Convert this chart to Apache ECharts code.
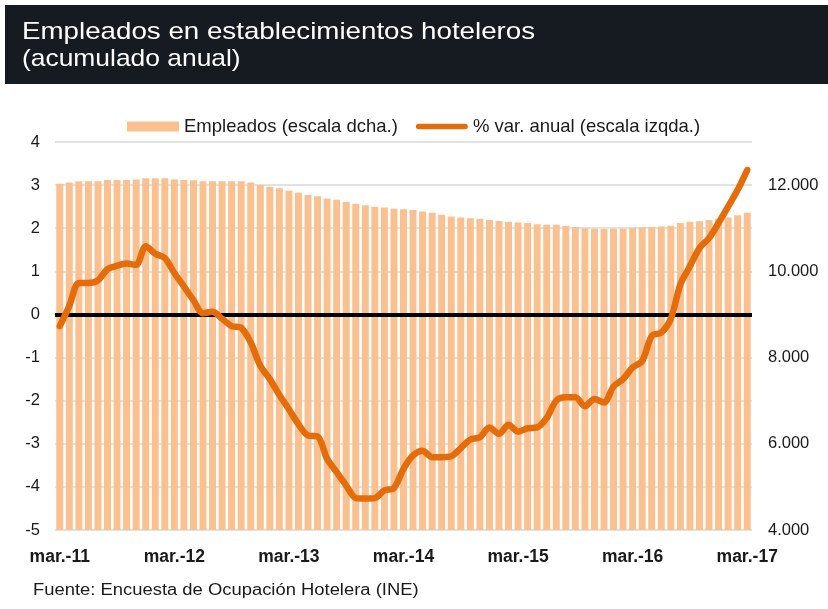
<!DOCTYPE html>
<html>
<head>
<meta charset="utf-8">
<script src="https://cdn.jsdelivr.net/npm/echarts@6/dist/echarts.min.js"></script>
<style>
html, body { margin: 0; padding: 0; background: #fff; }
#chart { width: 828px; height: 609px; }
</style>
</head>
<body>
<div id="chart"></div>
<script>
// etiquetas mensuales mar-11 .. mar-17
var meses = ['mar.', 'abr.', 'may.', 'jun.', 'jul.', 'ago.', 'sep.', 'oct.', 'nov.', 'dic.', 'ene.', 'feb.'];
var anios = ['11', '12', '13', '14', '15', '16', '17'];

// empleados (escala dcha.)
var empleados = [
    12030, 12060, 12090, 12090, 12090, 12120, 12120, 12120, 12130, 12160, 12160, 12160,
    12130, 12120, 12110, 12090, 12090, 12090, 12090, 12090, 12060, 12000, 11960, 11930,
    11870, 11820, 11770, 11740, 11690, 11660, 11610, 11570, 11530, 11500, 11480, 11450,
    11440, 11420, 11390, 11360, 11310, 11270, 11250, 11230, 11220, 11190, 11170, 11150,
    11130, 11120, 11090, 11080, 11080, 11060, 11030, 11000, 10990, 10980, 10990, 10990,
    11010, 11020, 11030, 11040, 11060, 11120, 11150, 11160, 11190, 11220, 11250, 11300,
    11360
];

// % var. anual (escala izqda.)
var variacion = [
    -0.27, 0.2, 0.73, 0.73, 0.79, 1.05, 1.13, 1.18, 1.15, 1.58, 1.41, 1.31,
    0.96, 0.65, 0.33, 0.03, 0.06, -0.1, -0.27, -0.31, -0.65, -1.19, -1.5, -1.87,
    -2.2, -2.55, -2.81, -2.83, -3.35, -3.66, -3.97, -4.26, -4.27, -4.26, -4.08, -4.03,
    -3.58, -3.27, -3.16, -3.31, -3.31, -3.29, -3.1, -2.9, -2.85, -2.62, -2.77, -2.56,
    -2.72, -2.64, -2.62, -2.4, -2.0, -1.92, -1.92, -2.13, -1.96, -2.04, -1.67, -1.5,
    -1.23, -1.08, -0.5, -0.42, -0.1, 0.7, 1.12, 1.54, 1.77, 2.12, 2.5, 2.89,
    3.35
];

var serieNombres = ['Empleados (escala dcha.)', '% var. anual (escala izqda.)'];

var categorias = [];
for (var i = 0; i < empleados.length; i++) {
    var m = i % 12;
    var a = (m < 10) ? anios[Math.floor(i / 12)] : anios[Math.floor(i / 12) + 1];
    categorias.push(meses[m] + '-' + a);
}

var fuente = 'Liberation Sans, Arial, Helvetica, sans-serif';
var chart = echarts.init(document.getElementById('chart'), null, { renderer: 'canvas' });

var option = {
    backgroundColor: '#ffffff',
    animation: false,
    textStyle: { fontFamily: fuente },
    graphic: [
        {
            type: 'rect',
            z: -1,
            shape: { x: 5, y: 5, width: 823, height: 79 },
            style: { fill: '#161b21' }
        },
        {
            type: 'text',
            x: 22,
            y: 20,
            scaleX: 1.155,
            style: { text: 'Empleados en establecimientos hoteleros', fill: '#ffffff', font: '24px ' + fuente, textVerticalAlign: 'top' }
        },
        {
            type: 'text',
            x: 22,
            y: 47,
            scaleX: 1.1,
            style: { text: '(acumulado anual)', fill: '#ffffff', font: '24px ' + fuente, textVerticalAlign: 'top' }
        },
        {
            type: 'text',
            x: 33,
            y: 583,
            scaleX: 1.15,
            style: { text: 'Fuente: Encuesta de Ocupación Hotelera (INE)', fill: '#1a1a1a', font: '16px ' + fuente, textVerticalAlign: 'top' }
        }
    ],
    legend: {
        top: 117,
        left: 127,
        padding: 0,
        itemWidth: 52,
        itemHeight: 10,
        itemGap: 18,
        symbolKeepAspect: true,
        textStyle: { color: '#1a1a1a', fontSize: 18.5 },
        data: [
            { name: serieNombres[0], icon: 'rect' },
            { name: serieNombres[1], icon: 'path://M3,0 L53,0 A3,3 0 0 1 53,6 L3,6 A3,3 0 0 1 3,0 Z' }
        ]
    },
    grid: {
        left: 55,
        right: 76,
        top: 142,
        bottom: 79
    },
    xAxis: {
        type: 'category',
        data: categorias,
        axisLine: { show: false },
        axisTick: { show: false },
        axisLabel: {
            interval: 11,
            margin: 18,
            color: '#1a1a1a',
            fontSize: 17.5,
            fontWeight: 'bold'
        }
    },
    yAxis: [
        {
            type: 'value',
            min: -5,
            max: 4,
            interval: 1,
            axisLine: { show: false },
            axisTick: { show: false },
            axisLabel: { color: '#1a1a1a', fontSize: 16.5, margin: 15 },
            splitLine: { lineStyle: { color: '#d9d9d9', width: 1.5 } }
        },
        {
            type: 'value',
            min: 4000,
            max: 13000,
            interval: 2000,
            axisLine: { show: false },
            axisTick: { show: false },
            splitLine: { show: false },
            axisLabel: {
                color: '#1a1a1a',
                fontSize: 16.5,
                margin: 16,
                showMaxLabel: false,
                formatter: function (v) {
                    if (v > 12000) return '';
                    return (v / 1000).toFixed(3);
                }
            }
        }
    ],
    series: [
        {
            name: serieNombres[0],
            type: 'bar',
            yAxisIndex: 1,
            data: empleados,
            barCategoryGap: '27%',
            itemStyle: { color: '#fac090' },
            z: 2
        },
        {
            name: serieNombres[1],
            type: 'line',
            yAxisIndex: 0,
            data: variacion,
            smooth: 0.3,
            symbol: 'none',
            lineStyle: { color: '#e46c0a', width: 6.5, cap: 'round', join: 'round' },
            itemStyle: { color: '#e46c0a' },
            z: 4,
            markLine: {
                silent: true,
                symbol: 'none',
                z: 3,
                label: { show: false },
                lineStyle: { color: '#000000', width: 4, type: 'solid' },
                data: [{ yAxis: 0 }]
            }
        }
    ]
};
chart.setOption(option);
</script>
</body>
</html>
